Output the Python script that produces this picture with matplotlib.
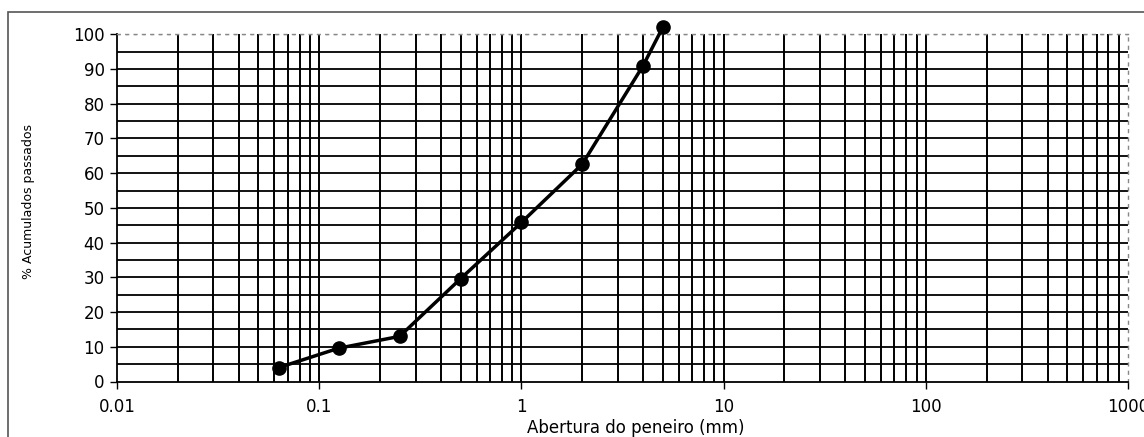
import numpy as np
import matplotlib.pyplot as plt
from matplotlib.patches import Rectangle
from matplotlib.ticker import FixedLocator, NullFormatter

# curva granulométrica
abertura = [0.063, 0.125, 0.25, 0.5, 1.0, 2.0, 4.0, 5.0]
passado = [4.0, 9.6, 13.0, 29.6, 45.8, 62.6, 91.0, 102.0]

x_ticks = [0.01, 0.1, 1, 10, 100, 1000]
x_labels = ["0.01", "0.1", "1", "10", "100", "1000"]
y_ticks = list(range(0, 101, 10))

fig = plt.figure(figsize=(11.44, 4.37), dpi=100)
plt.rcParams['font.family'] = ['DejaVu Sans']

# moldura da figura
fig.patches.append(Rectangle((8 / 1144, -0.1), 1.2, 1 - 12 / 437 + 0.1,
                             transform=fig.transFigure, fill=False,
                             edgecolor="#555555", linewidth=1.2))

ax = fig.add_axes([117 / 1144, 1 - 381.5 / 437, (1128 - 117) / 1144, (381.5 - 34.3) / 437])
ax.set_xscale("log")
ax.set_xlim(0.01, 1000)
ax.set_ylim(0, 100)

# grade: linhas verticais em cada subdivisão da década, horizontais a cada 5 %
decadas = [0.01, 0.1, 1, 10, 100]
vert = [d * k for d in decadas for k in range(1, 10) if d * k > 0.01]
for v in vert:
    ax.axvline(v, color="black", linewidth=1.4, zorder=1)
for h in range(5, 100, 5):
    ax.axhline(h, color="black", linewidth=1.3, zorder=1)
ax.axhline(100, color="#888888", linewidth=1.0, linestyle=(0, (2, 4)), zorder=1)

ax.plot(abertura, passado, color="black", linewidth=2.5, marker="o",
        markersize=9.5, clip_on=False, zorder=5)

ax.xaxis.set_major_locator(FixedLocator(x_ticks))
ax.set_xticklabels(x_labels)
ax.xaxis.set_minor_locator(FixedLocator([]))
ax.xaxis.set_minor_formatter(NullFormatter())
ax.set_yticks(y_ticks)
ax.tick_params(axis="both", direction="out", length=5, width=1.0,
               labelsize=12, color="black")
ax.tick_params(axis="x", pad=7)
ax.tick_params(axis="y", pad=4)

for side in ["left", "bottom"]:
    ax.spines[side].set_linewidth(1.3)
for side in ["top", "right"]:
    ax.spines[side].set_color("#888888")
    ax.spines[side].set_linestyle((0, (2, 4)))
    ax.spines[side].set_linewidth(1.0)

ax.set_xlabel("Abertura do peneiro (mm)", fontsize=12)
ax.xaxis.set_label_coords(0.513, -0.108)
ax.set_ylabel("% Acumulados passados", fontsize=9)
ax.yaxis.set_label_coords(-0.081, 0.517)

fig.savefig("out.png", dpi=100)
